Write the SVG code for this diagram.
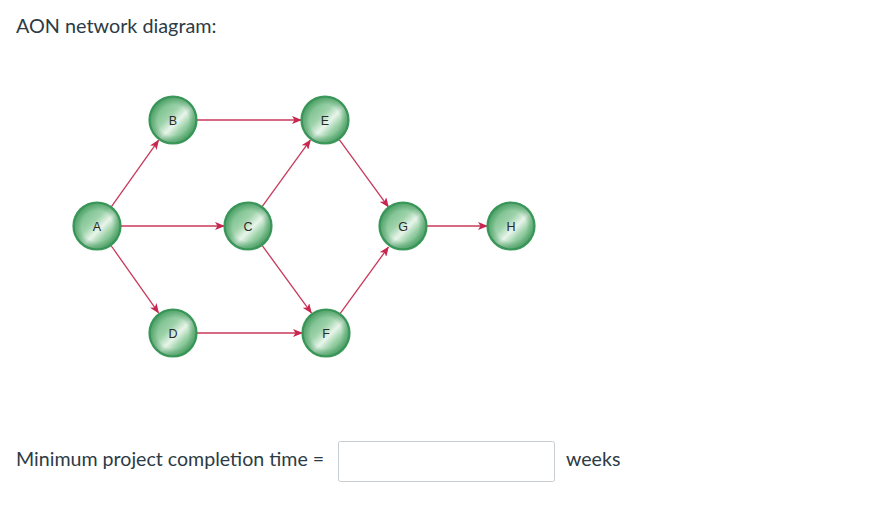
<svg xmlns="http://www.w3.org/2000/svg" width="872" height="507" viewBox="0 0 872 507">
<style>
.t{font-family:Lato,"Open Sans","Liberation Sans",sans-serif;fill:#2d3b45;}
.lbl{font-family:"Liberation Sans",Arial,sans-serif;font-size:12.5px;fill:#2a2a2a;text-anchor:middle;}
.ball{fill:url(#g1);stroke:#3d9a5c;stroke-width:2.2;}
.shade{fill:url(#g2);}
.e{stroke:#c8385a;stroke-width:1.3;fill:none;marker-end:url(#ah);}
</style>
<defs>
<linearGradient id="g1" x1="0" y1="0" x2="1" y2="1">
<stop offset="0" stop-color="#4fa96b"/>
<stop offset="0.42" stop-color="#9fd3ab"/>
<stop offset="0.56" stop-color="#e8f5ea"/>
<stop offset="0.7" stop-color="#96cea3"/>
<stop offset="1" stop-color="#3f9b5d"/>
</linearGradient>
<radialGradient id="g2" cx="0.5" cy="0.5" r="0.5">
<stop offset="0.65" stop-color="#2f8a4e" stop-opacity="0"/>
<stop offset="1" stop-color="#2f8a4e" stop-opacity="0.6"/>
</radialGradient>
<marker id="ah" markerUnits="userSpaceOnUse" markerWidth="10" markerHeight="8" refX="9" refY="4" orient="auto">
<path d="M0,0 L10,4 L0,8 L2.5,4 Z" fill="#c8264f"/>
</marker>
</defs>
<rect width="872" height="507" fill="#fff"/>
<text class="t" x="16" y="33" font-size="19.8">AON network diagram:</text>
<g id="connectors">
<line class="e" x1="110.9" y1="207.4" x2="158.5" y2="140.4"/>
<line class="e" x1="121" y1="226" x2="224" y2="226"/>
<line class="e" x1="111" y1="245.5" x2="158.4" y2="312.7"/>
<line class="e" x1="197" y1="120" x2="301" y2="120"/>
<line class="e" x1="262.1" y1="206.6" x2="310.3" y2="140.2"/>
<line class="e" x1="262.1" y1="245.4" x2="311.3" y2="312.8"/>
<line class="e" x1="197" y1="333" x2="302" y2="333"/>
<line class="e" x1="339.1" y1="139.4" x2="388.3" y2="206.8"/>
<line class="e" x1="340.1" y1="313.6" x2="388.3" y2="247.2"/>
<line class="e" x1="427" y1="226" x2="487" y2="226"/>
</g>
<g id="A"><circle class="ball" cx="97" cy="226" r="23.5"/><circle class="shade" cx="97" cy="226" r="23.5"/><text class="lbl" x="97" y="230.5">A</text></g>
<g id="B"><circle class="ball" cx="173" cy="120" r="23.5"/><circle class="shade" cx="173" cy="120" r="23.5"/><text class="lbl" x="173" y="124.5">B</text></g>
<g id="C"><circle class="ball" cx="248" cy="226" r="23.5"/><circle class="shade" cx="248" cy="226" r="23.5"/><text class="lbl" x="248" y="230.5">C</text></g>
<g id="D"><circle class="ball" cx="173" cy="333" r="23.5"/><circle class="shade" cx="173" cy="333" r="23.5"/><text class="lbl" x="173" y="337.5">D</text></g>
<g id="E"><circle class="ball" cx="325" cy="120" r="23.5"/><circle class="shade" cx="325" cy="120" r="23.5"/><text class="lbl" x="325" y="124.5">E</text></g>
<g id="F"><circle class="ball" cx="326" cy="333" r="23.5"/><circle class="shade" cx="326" cy="333" r="23.5"/><text class="lbl" x="326" y="337.5">F</text></g>
<g id="G"><circle class="ball" cx="403" cy="226" r="23.5"/><circle class="shade" cx="403" cy="226" r="23.5"/><text class="lbl" x="403" y="230.5">G</text></g>
<g id="H"><circle class="ball" cx="511" cy="226" r="23.5"/><circle class="shade" cx="511" cy="226" r="23.5"/><text class="lbl" x="511" y="230.5">H</text></g>
<text class="t" x="16" y="466" font-size="19.6">Minimum project completion time =</text>
<rect x="338.5" y="441.5" width="216" height="40" rx="2" fill="#fff" stroke="#c7cdd1" stroke-width="1"/>
<text class="t" x="566" y="466" font-size="19.6">weeks</text>
</svg>
